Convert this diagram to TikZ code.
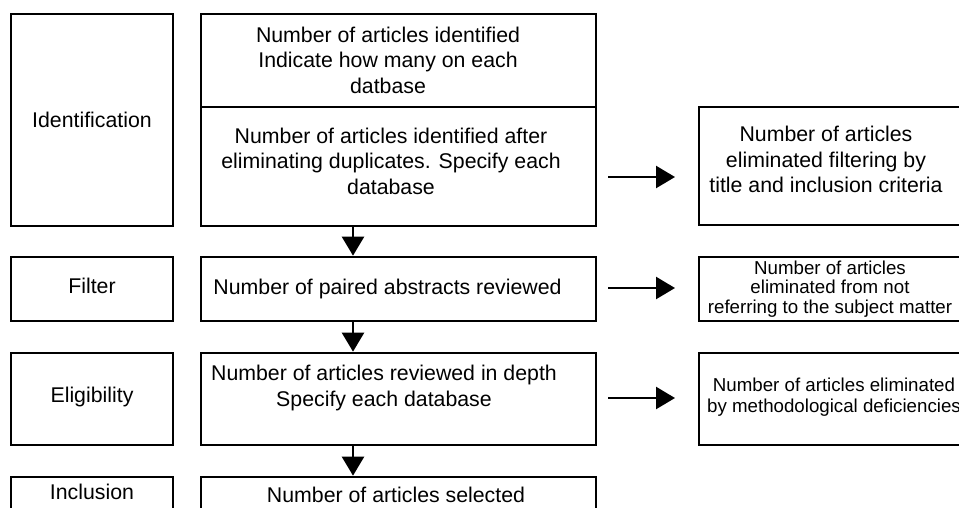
\documentclass[tikz,border=0pt]{standalone}
\usepackage{fontspec}
\setmainfont{Liberation Sans}
\usetikzlibrary{arrows.meta}
\begin{document}
\begin{tikzpicture}[x=1pt,y=-1pt,
  box/.style={draw,line width=2.7pt,inner sep=0pt},
  txt/.style={inner sep=0pt,align=center,font=\fontsize{21.3}{25.5}\selectfont},
  small/.style={inner sep=0pt,align=center,font=\fontsize{18.7}{19.5}\selectfont},
  smallb/.style={inner sep=0pt,align=center,font=\fontsize{18.7}{21}\selectfont},
  arr/.style={line width=2.5pt,-{Triangle[length=19pt,width=22pt]}}]
\clip (0,0) rectangle (959,507);
\fill[white] (0,0) rectangle (959,507);
% left column
\node[box,minimum width=162pt,minimum height=212pt] (idl) at (92,120) {};
\node[box,minimum width=162pt,minimum height=64pt] (fil) at (92,289) {};
\node[box,minimum width=162pt,minimum height=92pt] (eli) at (92,399) {};
\node[box,minimum width=162pt,minimum height=63pt] (inc) at (92,508.5) {};
% middle column
\node[box,minimum width=395pt,minimum height=93pt] (idm1) at (398.5,60.5) {};
\node[box,minimum width=395pt,minimum height=119pt] (idm2) at (398.5,166.5) {};
\node[box,minimum width=395pt,minimum height=64pt] (film) at (398.5,289) {};
\node[box,minimum width=395pt,minimum height=92pt] (elim) at (398.5,399) {};
\node[box,minimum width=395pt,minimum height=63pt] (incm) at (398.5,508.5) {};
% right column
\node[box,minimum width=301pt,minimum height=118pt] (r1) at (849.5,166) {};
\node[box,minimum width=301pt,minimum height=64pt] (r2) at (849.5,289) {};
\node[box,minimum width=301pt,minimum height=92pt] (r3) at (849.5,399) {};
% texts
\node[txt] (tidl) at (92,120) {Identification};
\node[txt] (tfil) at (92,286) {Filter};
\node[txt] (teli) at (92,397) {Eligibility};
\node[txt] (tinc) at (92,492) {Inclusion};
\node[txt] (tidm1) at (388,60) {Number of articles identified\\Indicate how many on each\\datbase};
\node[txt] (tidm2) at (391,161) {Number of articles identified after\\eliminating duplicates. Specify each\\database};
\node[txt] (tfilm) at (387.5,289) {Number of paired abstracts reviewed};
\node[txt] (telim) at (384,388) {Number of articles reviewed in depth\\Specify each database};
\node[txt] (tincm) at (396,495) {Number of articles selected};
\node[txt] (tr1) at (826,159.5) {Number of articles\\eliminated filtering by\\title and inclusion criteria};
\node[small] (tr2) at (830,289) {Number of articles\\eliminated from not\\referring to the subject matter};
\node[smallb] (tr3) at (834,397.5) {Number of articles eliminated\\by methodological deficiencies};
% vertical arrows
\coordinate (dx) at (353,0);
\draw[arr] (idm2.south -| dx) -- (film.north -| dx);
\draw[arr] (film.south -| dx) -- (elim.north -| dx);
\draw[arr] (elim.south -| dx) -- (incm.north -| dx);
% horizontal arrows
\coordinate (h1s) at (608,177); \coordinate (h1e) at (675,177);
\coordinate (h2s) at (608,288); \coordinate (h2e) at (675,288);
\coordinate (h3s) at (608,398); \coordinate (h3e) at (675,398);
\draw[arr] (h1s) -- (h1e);
\draw[arr] (h2s) -- (h2e);
\draw[arr] (h3s) -- (h3e);
\end{tikzpicture}
\end{document}
